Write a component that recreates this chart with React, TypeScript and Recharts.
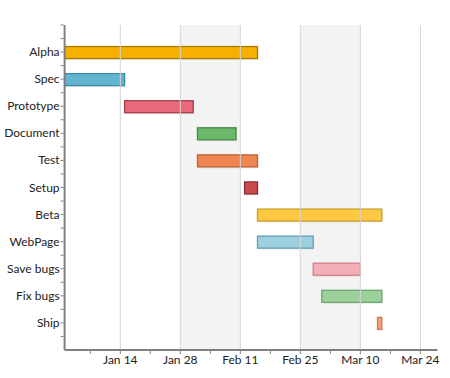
import React from "react"
import {
  BarChart,
  Bar,
  Cell,
  XAxis,
  YAxis,
  ReferenceArea,
  ReferenceLine,
} from "recharts"

// tasks, top to bottom
const TASKS = [
  "Alpha",
  "Spec",
  "Prototype",
  "Document",
  "Test",
  "Setup",
  "Beta",
  "WebPage",
  "Save bugs",
  "Fix bugs",
  "Ship",
]
const STARTS = [
  "2012-01-01",
  "2012-01-01",
  "2012-01-15",
  "2012-02-01",
  "2012-02-01",
  "2012-02-12",
  "2012-02-15",
  "2012-02-15",
  "2012-02-28",
  "2012-03-01",
  "2012-03-14",
]
const ENDS = [
  "2012-02-15",
  "2012-01-15",
  "2012-01-31",
  "2012-02-10",
  "2012-02-15",
  "2012-02-15",
  "2012-03-15",
  "2012-02-28",
  "2012-03-10",
  "2012-03-15",
  "2012-03-15",
]

const MAJOR_TICKS = ["2012-01-14", "2012-01-28", "2012-02-11", "2012-02-25", "2012-03-10", "2012-03-24"]
const MINOR_TICKS = ["2012-01-07", "2012-01-21", "2012-02-04", "2012-02-18", "2012-03-03", "2012-03-17"]
const SHADED = [
  ["2012-01-28", "2012-02-11"],
  ["2012-02-25", "2012-03-10"],
]
const DOMAIN = ["2012-01-01", "2012-03-28"]

const FILLS = ["#f5b000", "#62b4d0", "#e86a7a", "#6bb86a", "#ef8651", "#c94a4a", "#fec841", "#9dd0de", "#f4aeb7", "#9dd19c", "#f0a07a"]
const STROKES = ["#a87c00", "#3e8ea8", "#a83e4c", "#48884a", "#c06438", "#8e2c2c", "#c9a032", "#62a0b6", "#d87c88", "#6ea56d", "#d47a52"]

const MONTHS = ["Jan", "Feb", "Mar", "Apr", "May", "Jun", "Jul", "Aug", "Sep", "Oct", "Nov", "Dec"]

const ts = (d: string) => Date.parse(d)
const fmt = (v: number) => {
  const d = new Date(v)
  return `${MONTHS[d.getUTCMonth()]} ${d.getUTCDate()}`
}

const data = TASKS.map((task, i) => ({ task, span: [ts(STARTS[i]), ts(ENDS[i])] }))
const majorSet = new Set(MAJOR_TICKS.map(ts))
const xTicks = [...MAJOR_TICKS, ...MINOR_TICKS].map(ts).sort((a, b) => a - b)

const W = 450
const H = 378
const TOP = 25
const Y_AXIS_W = 64.6
const X_AXIS_H = 28
const RIGHT = 12.5
const PLOT_BOTTOM = H - X_AXIS_H
const BAND = (PLOT_BOTTOM - TOP) / (TASKS.length + 1)
const FONT = "Lato, sans-serif"
const AXIS_COLOR = "#808080"
const TEXT_COLOR = "#222"

function YTick(props: any) {
  const { y, payload, index } = props
  const ax = Y_AXIS_W - 1
  const last = index === TASKS.length - 1
  return (
    <g>
      <line x1={ax - 3} x2={ax} y1={y} y2={y} stroke={AXIS_COLOR} />
      <line x1={ax - 3} x2={ax} y1={y - BAND / 2} y2={y - BAND / 2} stroke={AXIS_COLOR} />
      {index === 0 && <line x1={ax - 3} x2={ax} y1={y - BAND} y2={y - BAND} stroke={AXIS_COLOR} />}
      {last && <line x1={ax - 3} x2={ax} y1={y + BAND / 2} y2={y + BAND / 2} stroke={AXIS_COLOR} />}
      <text x={ax - 4} y={y + 4} textAnchor="end" fontSize={12} fontFamily={FONT} fill={TEXT_COLOR}>
        {payload.value}
      </text>
    </g>
  )
}

function XTick(props: any) {
  const { x, payload } = props
  const major = majorSet.has(payload.value)
  const ay = PLOT_BOTTOM + 1
  return (
    <g>
      <line x1={x} x2={x} y1={ay} y2={ay + 3} stroke={AXIS_COLOR} />
      {major && (
        <text x={x} y={PLOT_BOTTOM + 14} textAnchor="middle" fontSize={12} fontFamily={FONT} fill={TEXT_COLOR}>
          {fmt(payload.value)}
        </text>
      )}
    </g>
  )
}

function TaskBar(props: any) {
  const { x, y, width, height, fill, stroke } = props
  return (
    <g>
      <rect x={x + 1} y={y + 1.5} width={width} height={height} fill="#000" opacity={0.08} />
      <rect x={x} y={y} width={width} height={height} fill={fill} stroke={stroke} strokeWidth={1.3} />
    </g>
  )
}

export default function App() {
  return (
    <div style={{ position: "absolute", left: 0, top: 0, background: "#fff" }}>
      <BarChart
        width={W}
        height={H}
        data={data}
        layout="vertical"
        margin={{ top: TOP, right: RIGHT, left: 0, bottom: 0 }}
      >
        {SHADED.map(([a, b]) => (
          <ReferenceArea
            key={a}
            yAxisId="bg"
            x1={ts(a)}
            x2={ts(b)}
            fill="#f3f3f3"
            fillOpacity={1}
            stroke="none"
          />
        ))}
        {MAJOR_TICKS.map((d) => (
          <ReferenceLine key={d} yAxisId="bg" x={ts(d)} stroke="#d4d4d4" strokeWidth={1} />
        ))}
        <XAxis
          type="number"
          domain={DOMAIN.map(ts)}
          ticks={xTicks}
          interval={0}
          tick={<XTick />}
          tickLine={false}
          height={X_AXIS_H}
          axisLine={{ stroke: AXIS_COLOR, strokeWidth: 2 }}
          allowDataOverflow
        />
        <YAxis yAxisId="bg" type="category" dataKey="task" hide />
        <YAxis
          type="category"
          dataKey="task"
          width={Y_AXIS_W}
          tick={<YTick />}
          tickLine={false}
          interval={0}
          padding={{ top: BAND / 2, bottom: BAND / 2 }}
          axisLine={{ stroke: AXIS_COLOR, strokeWidth: 2 }}
        />
        <Bar dataKey="span" barSize={12} shape={<TaskBar />} isAnimationActive={false}>
          {data.map((d, i) => (
            <Cell key={d.task} fill={FILLS[i]} stroke={STROKES[i]} />
          ))}
        </Bar>
      </BarChart>
    </div>
  )
}
